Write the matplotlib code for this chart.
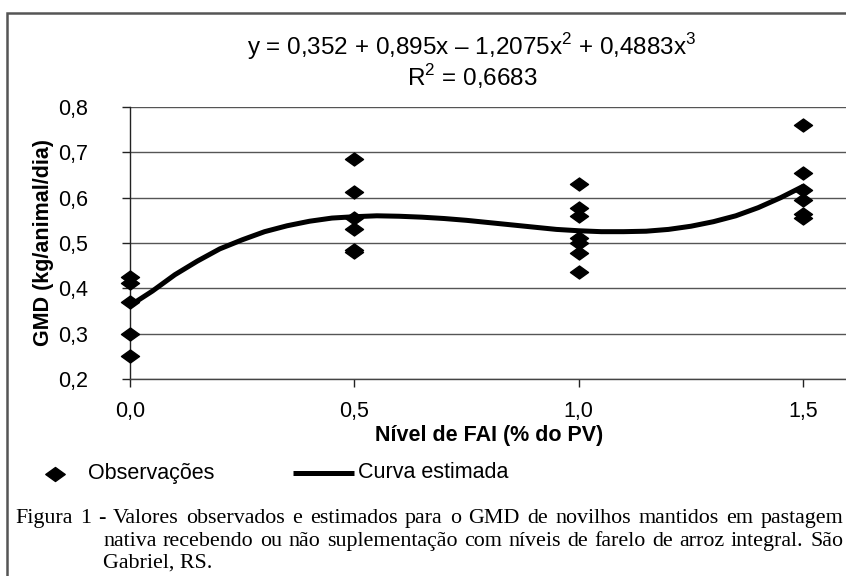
import numpy as np
import matplotlib
matplotlib.use("Agg")
import matplotlib.pyplot as plt
from matplotlib.path import Path
from matplotlib.patches import Rectangle
from matplotlib.lines import Line2D

# Observed GMD values for each FAI level
obs_x = [0.0] * 5 + [0.5] * 6 + [1.0] * 7 + [1.5] * 6
obs_y = [0.425, 0.412, 0.370, 0.300, 0.250,
         0.685, 0.612, 0.555, 0.530, 0.485, 0.480,
         0.630, 0.577, 0.560, 0.510, 0.500, 0.478, 0.437,
         0.760, 0.655, 0.618, 0.595, 0.565, 0.555]

# Estimated curve
curve_x = [0.0, 0.05, 0.1, 0.15, 0.2, 0.25, 0.3, 0.35, 0.4, 0.45, 0.5,
           0.55, 0.6, 0.65, 0.7, 0.75, 0.8, 0.85, 0.9, 0.95, 1.0,
           1.05, 1.1, 1.15, 1.2, 1.25, 1.3, 1.35, 1.4, 1.45, 1.5]
curve_y = [0.362, 0.394, 0.430, 0.460, 0.487, 0.507, 0.525, 0.538, 0.548, 0.555, 0.558,
           0.560, 0.559, 0.557, 0.554, 0.550, 0.545, 0.540, 0.535, 0.530, 0.527,
           0.525, 0.525, 0.526, 0.530, 0.537, 0.547, 0.560, 0.578, 0.600, 0.625]

x_ticks = [0.0, 0.5, 1.0, 1.5]
x_labels = ['0,0', '0,5', '1,0', '1,5']
y_ticks = [0.2, 0.3, 0.4, 0.5, 0.6, 0.7, 0.8]
y_labels = ['0,2', '0,3', '0,4', '0,5', '0,6', '0,7', '0,8']

equation = 'y = 0,352 + 0,895x – 1,2075x$^2$ + 0,4883x$^3$'
r2_text = 'R$^2$ = 0,6683'
caption = ['Figura 1 - Valores observados e estimados para o GMD de novilhos mantidos em pastagem',
           'nativa recebendo ou não suplementação com níveis de farelo de arroz integral. São',
           'Gabriel, RS.']

W, H = 846, 576
plt.rcParams['font.family'] = ['Liberation Sans', 'DejaVu Sans']
plt.rcParams['mathtext.fontset'] = 'custom'
plt.rcParams['mathtext.rm'] = 'Liberation Sans'

fig = plt.figure(figsize=(W / 100, H / 100), dpi=100)


def fx(px):
    return px / W


def fy(py):
    return 1 - py / H


# wide diamond marker
diamond = Path([(-1, 0), (0, 0.72), (1, 0), (0, -0.72), (-1, 0)],
               [Path.MOVETO, Path.LINETO, Path.LINETO, Path.LINETO, Path.CLOSEPOLY])

ax = fig.add_axes([fx(130), fy(379), fx(848) - fx(130), fy(107) - fy(379)])
ax.set_xlim(0, 1.6)
ax.set_ylim(0.2, 0.8)
for s in ['top', 'right']:
    ax.spines[s].set_visible(False)
ax.spines['left'].set_color('#222222')
ax.spines['bottom'].set_color('#444444')
ax.spines['left'].set_linewidth(1.0)
ax.spines['bottom'].set_linewidth(1.0)
ax.set_xticks(x_ticks)
ax.set_xticklabels(x_labels, fontsize=15.5)
ax.set_yticks(y_ticks)
ax.set_yticklabels(y_labels, fontsize=15.5)
ax.tick_params(axis='both', direction='out', length=6, width=1, color='#222222')
ax.tick_params(axis='x', pad=10)
ax.tick_params(axis='y', pad=24)
ax.yaxis.grid(True, color='#555555', linewidth=1.0)
ax.set_axisbelow(True)

ax.plot(curve_x, curve_y, color='black', linewidth=3.6, solid_capstyle='butt', zorder=3)
ax.plot(obs_x, obs_y, linestyle='none', marker=diamond, markersize=13,
        color='black', clip_on=False, zorder=4)

ax.set_xlabel('Nível de FAI (% do PV)', fontsize=15.5, fontweight='bold', labelpad=2)
ax.set_ylabel('GMD (kg/animal/dia)', fontsize=15.5, fontweight='bold', labelpad=3)

# equation on top
fig.text(fx(472), fy(47), equation, fontsize=17.5, ha='center', va='center')
fig.text(fx(472), fy(77), r2_text, fontsize=17.5, ha='center', va='center')

# legend drawn by hand
fig.add_artist(Line2D([fx(55)], [fy(474)], marker=diamond, markersize=14,
                      color='black', linestyle='none'))
fig.text(fx(88), fy(473), 'Observações', fontsize=15.5, ha='left', va='center')
fig.add_artist(Line2D([fx(293), fx(354)], [fy(473), fy(473)], color='black',
                      linewidth=3.6, solid_capstyle='butt'))
fig.text(fx(358), fy(473), 'Curva estimada', fontsize=15.5, ha='left', va='center')

# outer frame
fig.add_artist(Rectangle((fx(7), -0.1), 1.2, fy(13) + 0.1, transform=fig.transFigure,
                         fill=False, edgecolor='#555555', linewidth=1.8))

# justified caption
cap_kw = dict(fontsize=15.8, family='Liberation Serif', va='baseline', ha='left')
renderer = fig.canvas.get_renderer()


def justify(line, x0, x1, base):
    words = line.split()
    widths = []
    for w in words:
        t = fig.text(0, 0, w, **cap_kw)
        widths.append(t.get_window_extent(renderer).width)
        t.remove()
    gap = (x1 - x0 - sum(widths)) / (len(words) - 1)
    x = x0
    for w, wd in zip(words, widths):
        fig.text(fx(x), fy(base), w, **cap_kw)
        x += wd + gap


justify(caption[0], 15, 843, 523)
justify(caption[1], 103, 843, 546)
fig.text(fx(103), fy(568), caption[2], **cap_kw)

fig.savefig('out.png', dpi=100)
